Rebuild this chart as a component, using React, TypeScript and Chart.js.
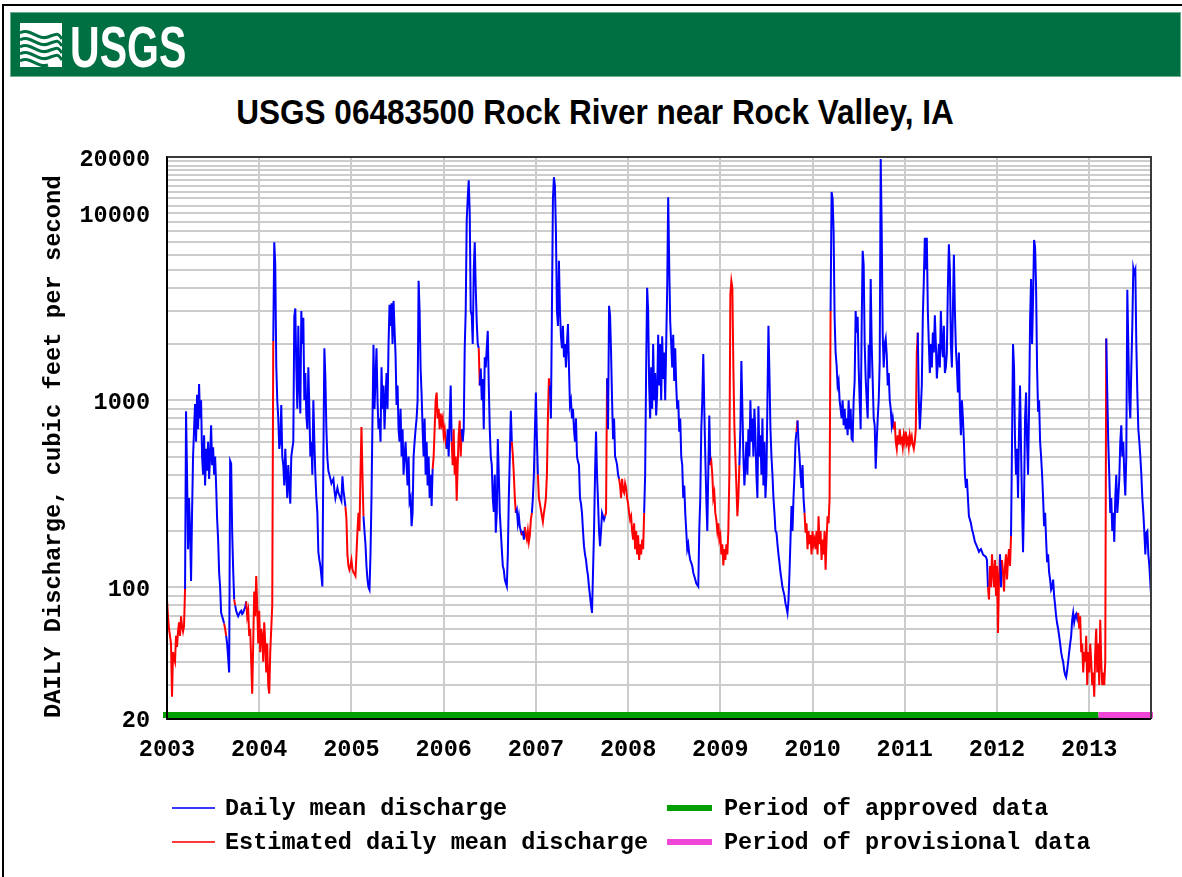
import React, { useEffect, useRef } from "react";
import { Chart, registerables } from "chart.js";

Chart.register(...registerables);

// ---------- data (daily mean discharge, cfs; ~92 samples per year) ----------
const years = [2003, 2004, 2005, 2006, 2007, 2008, 2009, 2010, 2011, 2012, 2013];
const SAMPLES_PER_YEAR = 92;
const LEAD = 2;

const q2003 = [117,90,86,70,60,55,50,26,45,42,40,55,48,58,65,55,70,62,58,62,98,
  873,400,160,300,200,108,250,500,700,956,600,1070,700,1220,800,1000,500,400,650,350,550,420,600,380,500,735,450,560,400,500,350,232,180,120,100,73,70,67,64,
  60,55,50,42,35,475,460,200,124,86,80,75,72,70,72,74,75,72,73,76,78,84,
  70,75,55,60,40,27,50,95,70,115];
const q2004 = [80,50,75,45,60,55,40,65,50,35,50,30,27,45,60,80,2075,
  7000,5300,1540,1000,800,550,600,943,500,450,
  350,550,400,300,450,350,280,500,550,600,
  2800,3100,1500,900,2500,1200,850,3000,2000,2760,
  1000,1400,830,700,1500,900,500,600,400,1000,
  600,400,300,250,154,140,130,115,101,500,
  1900,1310,700,490,420,400,380,360,370,380,
  330,300,320,340,320,310,300,290,392,330,
  300,270,232,150,130];
const q2005 = [124,130,140,125,120,118,115,150,200,250,
  200,400,720,400,240,200,170,130,110,100,
  97,150,300,800,1980,900,1300,1900,1000,700,
  800,600,1500,900,1200,700,1000,1400,900,2000,
  3240,2500,3300,2000,3400,2400,1750,943,1200,700,
  600,900,500,700,400,500,600,450,350,500,
  286,300,212,250,500,600,700,800,1000,4360,
  3000,1480,1070,700,500,800,400,600,350,500,
  300,400,272,430,500,700,1000,1100,800,900,
  700,850];
const q2006 = [750,800,650,700,600,550,700,500,800,1200,
  600,450,700,400,500,290,450,650,780,500,
  700,600,700,1900,3000,9150,12000,15000,10000,3000,
  2850,2000,4920,7000,4000,2600,2000,1900,1200,1480,
  1000,1300,700,1700,1500,1900,2350,1200,700,500,
  450,300,253,400,196,250,620,400,250,200,
  160,130,124,110,105,101,150,300,500,880,
  600,510,400,300,250,260,220,240,210,200,
  190,200,180,210,190,180,200,175,190,230,
  250,300];
const q2007 = [400,680,1100,620,400,300,280,260,240,224,
  250,270,300,400,800,1310,1200,800,3000,12000,
  15600,14000,8000,3000,2500,5570,3000,2200,1900,2500,
  1700,2000,1500,2000,2560,1500,943,1000,800,900,
  700,600,800,500,470,450,300,280,250,200,
  166,150,140,125,115,100,90,80,73,120,
  200,400,680,400,286,200,166,200,250,240,
  230,240,250,1310,700,3200,2850,1800,1000,620,
  800,500,480,450,400,380,350,300,380,330,
  320,360];
const q2008 = [340,300,280,250,230,240,200,180,220,160,
  200,150,190,140,170,150,180,160,250,400,
  1500,4000,3000,1200,800,1500,900,2000,1000,1400,
  830,1100,2240,1200,2000,1000,2200,1300,1800,1000,
  2000,4000,12200,5300,2640,2000,1500,2240,1270,1900,
  1200,900,1000,680,800,500,450,300,350,250,
  200,160,170,150,140,135,130,120,115,110,
  105,103,101,200,300,700,1000,1770,900,500,
  300,200,420,830,450,470,400,300,320,250,
  230,200];
const q2009 = [220,180,190,150,170,131,160,140,170,150,
  200,400,3680,4360,4000,1500,730,500,350,240,
  300,450,700,1620,900,500,350,450,600,400,
  700,500,1000,600,800,500,900,650,400,300,
  930,500,650,400,800,350,600,300,400,1000,
  2500,1370,700,500,400,300,250,200,196,170,
  150,135,120,110,100,95,90,82,78,73,
  85,120,180,272,200,300,400,600,680,780,
  600,500,400,340,450,300,250,196,220,160,
  200,170];
const q2010 = [190,150,200,170,180,160,200,150,240,170,
  200,140,180,150,200,124,180,240,220,300,
  3000,13000,12000,8000,2760,1800,1540,1200,1270,1000,
  900,800,1000,735,900,700,800,650,1000,700,
  900,620,610,1000,1270,3000,2300,2800,1500,1000,
  700,2500,6300,5300,2000,1310,1000,800,1980,1310,
  4450,2000,1270,800,735,430,600,800,1000,1600,
  19500,8000,2240,1500,2000,2140,1750,1200,1400,1000,
  900,735,800,700,770,600,550,650,580,700,
  600,620];
const q2011 = [560,650,600,680,590,620,560,650,600,640,
  580,550,600,700,1800,2300,1000,700,900,1200,
  2800,4360,7400,5000,7400,3000,2000,1400,2000,1500,
  2300,1800,2850,2000,1310,1600,2000,1500,3000,2000,
  1700,2500,1400,1500,1800,4000,6820,5000,2000,1500,
  3000,6000,3000,1900,1500,1100,1800,900,650,1000,
  800,600,400,340,380,300,240,230,220,205,
  196,185,175,170,165,160,155,158,160,155,
  150,148,147,145,140,100,86,130,100,150,
  120,100];
const q2012 = [140,90,130,57,110,150,100,140,120,95,
  130,150,110,140,160,130,188,600,2000,1500,
  600,400,550,300,700,1200,550,272,154,300,
  800,1100,600,400,900,2640,4450,2000,3500,7200,
  6600,4000,1480,870,1000,600,500,400,300,212,
  250,180,136,150,120,110,97,100,110,90,
  80,70,64,60,55,50,45,42,40,36,
  34,33,36,40,45,50,55,67,73,65,
  70,72,68,73,60,70,45,50,35,45,
  40,55];
const q2013 = [30,45,35,50,40,30,35,26,45,60,
  35,50,30,67,40,30,35,30,40,2140,
  1100,600,400,250,300,200,250,175,300,400,
  250,300,380,600,735,500,600,400,310,500,
  3900,2000,1000,800,1500,2500,5100,4800,5000,2000,
  1100,700,600,500,400,300,250,196,150,196,
  200,150,130,105,85];

// estimated-value sample ranges within each year [first, last]
const est2003 = [[0,20],[60,61],[70,70],[82,91]];
const est2004 = [[0,16],[89,91]];
const est2005 = [[0,14],[84,91]];
const est2006 = [[0,5],[11,20],[38,38],[71,74],[81,81],[84,90]];
const est2007 = [[5,16],[72,73],[86,91]];
const est2008 = [[0,18],[85,91]];
const est2009 = [[0,21],[79,79],[87,91]];
const est2010 = [[0,20],[84,91]];
const est2011 = [[0,15],[86,91]];
const est2012 = [[0,5],[8,16],[84,91]];
const est2013 = [[0,19]];

const flowsByYear = [q2003,q2004,q2005,q2006,q2007,q2008,q2009,q2010,q2011,q2012,q2013];
const estByYear = [est2003,est2004,est2005,est2006,est2007,est2008,est2009,est2010,est2011,est2012,est2013];

const approvedPeriod = [2003, 2013.1];
const provisionalPeriod = [2013.1, 2013.67];

const xTicks = [2003, 2004, 2005, 2006, 2007, 2008, 2009, 2010, 2011, 2012, 2013];
const yGridValues = [20,30,40,50,60,70,80,90,100,200,300,400,500,600,700,800,900,
  1000,2000,3000,4000,5000,6000,7000,8000,9000,10000,11000,12000,13000,14000,15000,
  16000,17000,18000,19000,20000];
const yTickLabels = [20, 100, 1000, 10000, 20000];

const BLUE = "#0000ff";
const RED = "#ff0000";
const GREEN = "#00a000";
const MAGENTA = "#f046d8";
const GRID = "#cccccc";
const MONO = "'Liberation Mono', 'DejaVu Sans Mono', monospace";

const points: { x: number; y: number }[] = [];
const flags: boolean[] = [];
years.forEach((yr, k) => {
  flowsByYear[k].forEach((v, j) => {
    points.push({ x: yr + (j - LEAD) / SAMPLES_PER_YEAR, y: v });
    flags.push(estByYear[k].some(([a, b]) => j >= a && j <= b));
  });
});

const framePlugin = {
  id: "frameAndPeriods",
  afterDatasetsDraw(chart: any) {
    const { ctx, chartArea: a, scales } = chart;
    const x = scales.x;
    const x0 = x.getPixelForValue(approvedPeriod[0]) - 4;
    const x1 = x.getPixelForValue(approvedPeriod[1]);
    const x2 = x.getPixelForValue(provisionalPeriod[1]) + 2;
    ctx.save();
    ctx.fillStyle = GREEN;
    ctx.fillRect(x0, a.bottom - 6, x1 - x0, 6);
    ctx.fillStyle = MAGENTA;
    ctx.fillRect(x1, a.bottom - 6, x2 - x1, 6);
    ctx.lineWidth = 2;
    ctx.strokeStyle = "#3a3a3a";
    ctx.beginPath();
    ctx.moveTo(a.left, a.top);
    ctx.lineTo(a.right, a.top);
    ctx.lineTo(a.right, a.bottom);
    ctx.stroke();
    ctx.strokeStyle = "#000";
    ctx.beginPath();
    ctx.moveTo(a.left, a.top);
    ctx.lineTo(a.left, a.bottom + 1);
    ctx.lineTo(a.right, a.bottom + 1);
    ctx.stroke();
    ctx.restore();
  },
};

function ChartCanvas() {
  const ref = useRef<HTMLCanvasElement | null>(null);
  useEffect(() => {
    if (!ref.current) return;
    const chart = new Chart(ref.current, {
      type: "line",
      data: {
        datasets: [
          {
            label: "Daily mean discharge",
            data: points,
            borderColor: BLUE,
            borderWidth: 2,
            pointRadius: 0,
            tension: 0,
            segment: {
              borderColor: (c: any) => (flags[c.p1DataIndex] ? RED : BLUE),
            },
          } as any,
        ],
      },
      options: {
        responsive: false,
        animation: false,
        layout: { padding: { left: 30, top: 157, right: 31, bottom: 99 } },
        plugins: { legend: { display: false }, tooltip: { enabled: false } },
        scales: {
          x: {
            type: "linear",
            min: 2003,
            max: 2013.67,
            afterBuildTicks: (s: any) => {
              s.ticks = xTicks.map((v) => ({ value: v }));
            },
            afterFit: (s: any) => {
              s.height = 60;
            },
            grid: { color: GRID, lineWidth: 2, drawTicks: false },
            border: { color: "#000", width: 2 },
            ticks: {
              padding: 18,
              color: "#000",
              autoSkip: false,
              maxRotation: 0,
              font: { family: MONO, size: 23.5, weight: "bold" },
              callback: (v: any) => String(v),
            },
          },
          y: {
            type: "logarithmic",
            min: 20,
            max: 20000,
            afterBuildTicks: (s: any) => {
              s.ticks = yGridValues.map((v) => ({ value: v }));
            },
            afterFit: (s: any) => {
              s.width = 137;
            },
            grid: { color: GRID, lineWidth: 2, drawTicks: false },
            border: { color: "#000", width: 2 },
            ticks: {
              padding: 17,
              labelOffset: 3,
              color: "#000",
              autoSkip: false,
              font: { family: MONO, size: 23.5, weight: "bold" },
              callback: (v: any) => (yTickLabels.includes(Number(v)) ? String(v) : ""),
            },
            title: {
              display: true,
              text: "DAILY Discharge, cubic feet per second",
              align: "start",
              color: "#000",
              padding: { top: 10, bottom: 0 },
              font: { family: MONO, size: 23.8, weight: "bold" },
            },
          },
        },
      } as any,
      plugins: [framePlugin],
    });
    return () => chart.destroy();
  }, []);
  return (
    <canvas
      ref={ref}
      width={1182}
      height={877}
      style={{ position: "absolute", left: 0, top: 0, width: 1182, height: 877 }}
    />
  );
}

const legendText: React.CSSProperties = {
  position: "absolute",
  fontFamily: MONO,
  fontWeight: "bold",
  fontSize: 23.5,
  lineHeight: "28px",
  color: "#000",
  whiteSpace: "nowrap",
};

export default function App() {
  return (
    <div
      style={{
        position: "absolute",
        left: 0,
        top: 0,
        width: 1182,
        height: 877,
        overflow: "hidden",
        background: "#fff",
      }}
    >
      <div
        style={{
          position: "absolute",
          left: 2,
          top: 4,
          width: 1200,
          height: 900,
          borderLeft: "2px solid #000",
          borderTop: "2px solid #000",
        }}
      />
      <div
        style={{
          position: "absolute",
          left: 10,
          top: 12,
          width: 1171,
          height: 65,
          background: "#006f41",
          boxShadow: "inset 0 0 0 1px #6fae8c",
        }}
      >
        <svg
          width="42"
          height="44"
          viewBox="0 0 42 44"
          style={{ position: "absolute", left: 10, top: 11 }}
        >
          <rect x="0" y="0" width="42" height="44" fill="#ffffff" />
          <path d="M0 10 C10 4, 18 18, 28 14 S38 10, 42 16" stroke="#006f41" strokeWidth="3" fill="none" />
          <path d="M0 17 C10 11, 18 25, 28 21 S38 17, 42 23" stroke="#006f41" strokeWidth="3" fill="none" />
          <path d="M0 24 C10 18, 18 32, 28 28 S38 24, 42 30" stroke="#006f41" strokeWidth="3" fill="none" />
          <path d="M0 31 C10 25, 18 39, 28 35 S38 31, 42 37" stroke="#006f41" strokeWidth="3" fill="none" />
          <path d="M0 38 C10 32, 18 46, 28 42" stroke="#006f41" strokeWidth="3" fill="none" />
        </svg>
        <div
          style={{
            position: "absolute",
            left: 60,
            top: 5,
            fontFamily: "'Liberation Sans', Arial, sans-serif",
            fontWeight: "bold",
            fontSize: 57,
            lineHeight: "60px",
            color: "#fff",
            transform: "scaleX(0.72)",
            transformOrigin: "left top",
            whiteSpace: "nowrap",
          }}
        >
          USGS
        </div>
      </div>
      <div
        style={{
          position: "absolute",
          left: 0,
          top: 92,
          width: 1190,
          textAlign: "center",
          fontFamily: "'Liberation Sans', Arial, sans-serif",
          fontWeight: "bold",
          fontSize: 35,
          lineHeight: "40px",
          color: "#000",
          whiteSpace: "nowrap",
          transform: "scaleX(0.9)",
          transformOrigin: "595px 0",
        }}
      >
        USGS 06483500 Rock River near Rock Valley, IA
      </div>
      <ChartCanvas />
      <div style={{ position: "absolute", left: 172, top: 807, width: 43, height: 2, background: "#3a3aff" }} />
      <div style={{ ...legendText, left: 225, top: 795 }}>Daily mean discharge</div>
      <div style={{ position: "absolute", left: 172, top: 841, width: 43, height: 2, background: "#ff3a3a" }} />
      <div style={{ ...legendText, left: 225, top: 829 }}>Estimated daily mean discharge</div>
      <div style={{ position: "absolute", left: 667, top: 805, width: 45, height: 6, background: GREEN }} />
      <div style={{ ...legendText, left: 724, top: 795 }}>Period of approved data</div>
      <div style={{ position: "absolute", left: 667, top: 839, width: 45, height: 6, background: MAGENTA }} />
      <div style={{ ...legendText, left: 724, top: 829 }}>Period of provisional data</div>
    </div>
  );
}
